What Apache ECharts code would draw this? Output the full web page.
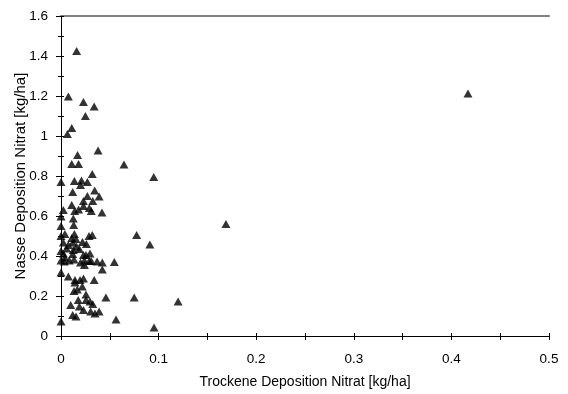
<!DOCTYPE html>
<html><head><meta charset="utf-8">
<script src="https://cdn.jsdelivr.net/npm/echarts@6/dist/echarts.min.js"></script>
<style>html,body{margin:0;padding:0;background:#fff}#c{width:568px;height:394px}</style>
</head><body><div id="c"></div>
<script>
const xTrocken = [0.016,0.0075,0.023,0.034,0.025,0.011,0.0065,0.017,0.038,0.011,0.018,0.0645,0.032,0.095,0.0,0.0137,0.021,0.027,0.020,0.012,0.0345,0.027,0.039,0.023,0.0325,0.0024,0.011,0.023,0.018,0.014,0.029,0.031,0.042,0.0,0.0126,0.0,0.013,0.0775,0.0,0.004,0.0137,0.011,0.0287,0.032,0.091,0.0024,0.0075,0.012,0.0154,0.022,0.026,0.0058,0.016,0.0,0.0024,0.0126,0.0188,0.012,0.023,0.0256,0.0297,0.004,0.0,0.0034,0.0085,0.0133,0.020,0.024,0.024,0.029,0.031,0.037,0.0423,0.0423,0.0546,0.0,0.0075,0.0143,0.0143,0.0195,0.023,0.034,0.0218,0.0133,0.0167,0.0256,0.046,0.075,0.0177,0.0256,0.0297,0.0325,0.0099,0.0188,0.023,0.0304,0.0348,0.039,0.012,0.0154,0.0,0.0564,0.0953,0.169,0.120,0.417];
const yNass = [1.425,1.197,1.17,1.147,1.10,1.04,1.01,0.905,0.927,0.86,0.86,0.857,0.81,0.795,0.77,0.775,0.777,0.77,0.755,0.72,0.727,0.70,0.697,0.675,0.675,0.63,0.655,0.65,0.633,0.625,0.64,0.625,0.617,0.597,0.587,0.55,0.555,0.505,0.50,0.51,0.51,0.49,0.50,0.505,0.458,0.467,0.455,0.467,0.485,0.47,0.46,0.438,0.447,0.425,0.413,0.43,0.435,0.41,0.405,0.405,0.413,0.393,0.377,0.372,0.377,0.383,0.367,0.377,0.355,0.375,0.375,0.372,0.367,0.333,0.37,0.317,0.297,0.28,0.268,0.28,0.288,0.28,0.247,0.225,0.233,0.208,0.192,0.192,0.18,0.18,0.172,0.16,0.155,0.147,0.13,0.122,0.113,0.122,0.105,0.097,0.072,0.083,0.042,0.56,0.172,1.213];
const xTitle = 'Trockene Deposition Nitrat [kg/ha]';
const yTitle = 'Nasse Deposition Nitrat [kg/ha]';
const points = xTrocken.map((x, i) => [x, yNass[i]]);
const font = 'Liberation Sans, Arial, sans-serif';
const chart = echarts.init(document.getElementById('c'));
const baseX = {type:'value', min:0, max:0.5, interval:0.1, splitLine:{show:false}};
const baseY = {type:'value', min:0, max:1.6, interval:0.2, splitLine:{show:false}};
chart.setOption({
  animation:false,
  grid:{left:61, right:19, top:16, bottom:58, containLabel:false, outerBoundsMode:'none'},
  xAxis:[
    Object.assign({}, baseX, {position:'bottom', name:xTitle, nameLocation:'middle', nameGap:39,
      nameTextStyle:{fontFamily:font, fontSize:14, color:'#000'},
      axisLine:{lineStyle:{color:'#000', width:1}},
      axisTick:{show:true, inside:false, length:4, lineStyle:{color:'#000'}},
      minorTick:{show:true, splitNumber:2, length:4, lineStyle:{color:'#000'}},
      axisLabel:{fontFamily:font, fontSize:13.5, color:'#000', margin:16}}),
    Object.assign({}, baseX, {position:'bottom', axisLine:{show:false},
      axisTick:{show:true, inside:true, length:3, lineStyle:{color:'#000'}},
      minorTick:{show:true, splitNumber:2, length:3, lineStyle:{color:'#000'}},
      axisLabel:{show:false}}),
    Object.assign({}, baseX, {position:'top', axisLine:{lineStyle:{color:'#808080', width:2}},
      axisTick:{show:false}, axisLabel:{show:false}})
  ],
  yAxis:[
    Object.assign({}, baseY, {position:'left', name:yTitle, nameLocation:'middle', nameGap:33,
      nameMoveOverlap:false,
      nameTextStyle:{fontFamily:font, fontSize:15, color:'#000'},
      axisLine:{lineStyle:{color:'#000', width:1}},
      axisTick:{show:true, inside:false, length:5, lineStyle:{color:'#000'}},
      minorTick:{show:true, splitNumber:2, length:3, lineStyle:{color:'#000'}},
      axisLabel:{fontFamily:font, fontSize:13.5, color:'#000', margin:13}}),
    Object.assign({}, baseY, {position:'left', axisLine:{show:false},
      axisTick:{show:true, inside:true, length:3, lineStyle:{color:'#000'}},
      minorTick:{show:true, splitNumber:2, length:3, lineStyle:{color:'#000'}},
      axisLabel:{show:false}})
  ],
  series:[{type:'scatter', xAxisIndex:0, yAxisIndex:0, data:points,
    symbol:'triangle', symbolSize:[9,8], itemStyle:{color:'#000'}}]
});
</script></body></html>
